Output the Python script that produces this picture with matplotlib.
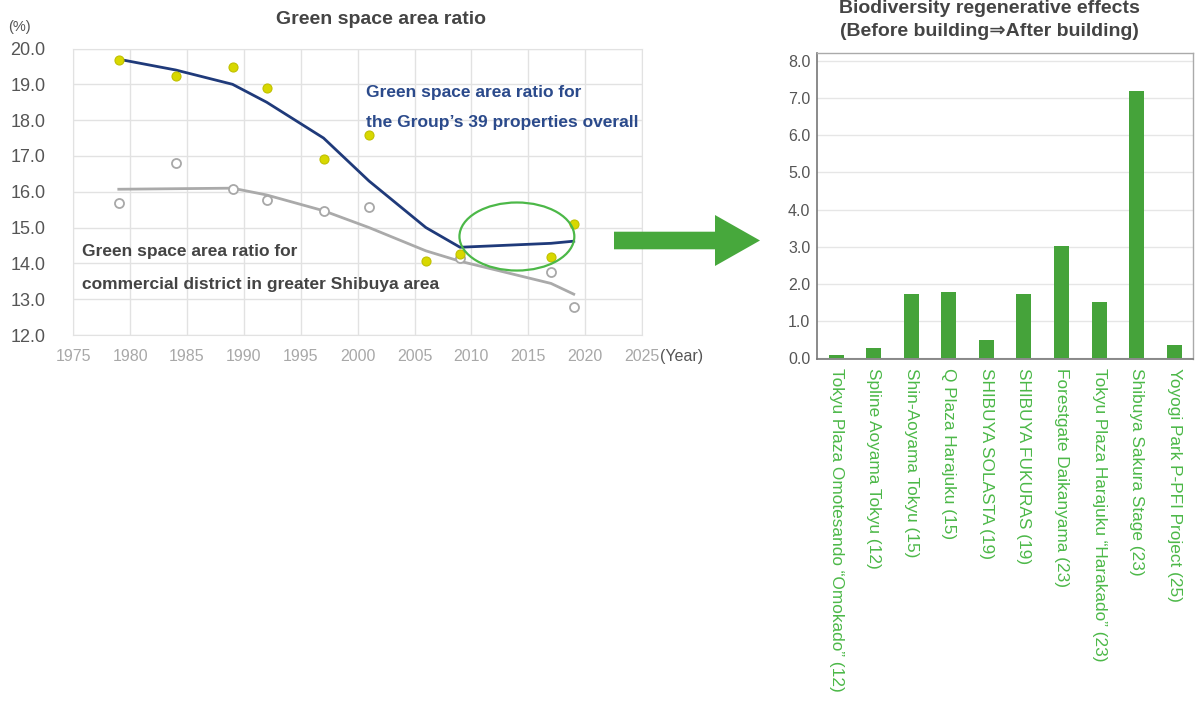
import matplotlib
matplotlib.use("Agg")
import matplotlib.pyplot as plt
from matplotlib.patches import Ellipse, Polygon

plt.rcParams['font.family'] = ['Liberation Sans', 'DejaVu Sans']

# ---------------- data ----------------
years = [1979, 1984, 1989, 1992, 1997, 2001, 2006, 2009, 2017, 2019]
group_ratio = [19.68, 19.24, 19.47, 18.90, 16.92, 17.58, 14.08, 14.25, 14.18, 15.10]
group_trend = [19.70, 19.40, 19.00, 18.50, 17.50, 16.30, 15.00, 14.45, 14.56, 14.62]

shibuya_years = [1979, 1984, 1989, 1992, 1997, 2001, 2009, 2017, 2019]
shibuya_ratio = [15.69, 16.80, 16.07, 15.77, 15.45, 15.57, 14.14, 13.77, 12.79]
shibuya_trend_years = [1979, 1989, 1992, 1997, 2001, 2006, 2009, 2017, 2019]
shibuya_trend = [16.07, 16.10, 15.91, 15.47, 15.00, 14.35, 14.06, 13.44, 13.14]

x_ticks = [1975, 1980, 1985, 1990, 1995, 2000, 2005, 2010, 2015, 2020, 2025]
y_ticks = [12.0, 13.0, 14.0, 15.0, 16.0, 17.0, 18.0, 19.0, 20.0]

projects = [
    'Tokyu Plaza Omotesando \u201cOmokado\u201d (12)',
    'Spline Aoyama Tokyu (12)',
    'Shin-Aoyama Tokyu (15)',
    'Q Plaza Harajuku (15)',
    'SHIBUYA SOLASTA (19)',
    'SHIBUYA FUKURAS (19)',
    'Forestgate Daikanyama (23)',
    'Tokyu Plaza Harajuku \u201cHarakado\u201d (23)',
    'Shibuya Sakura Stage (23)',
    'Yoyogi Park P-PFI Project (25)',
]
effects = [0.09, 0.28, 1.72, 1.78, 0.50, 1.73, 3.01, 1.51, 7.19, 0.36]
bar_ticks = [0.0, 1.0, 2.0, 3.0, 4.0, 5.0, 6.0, 7.0, 8.0]

# ---------------- figure ----------------
W, H = 1198, 706
fig = plt.figure(figsize=(W / 100, H / 100), dpi=100)

def fx(px):
    return px / W

def fy(py):
    return 1 - py / H

# ----- left chart -----
axL = fig.add_axes([fx(73.3), fy(335), fx(642) - fx(73.3), fy(48.5) - fy(335)])
grid_c = '#e2e2e2'
axL.set_xlim(1975, 2025)
axL.set_ylim(12, 20)
axL.set_xticks(x_ticks)
axL.set_yticks(y_ticks)
axL.set_yticklabels([f'{v:.1f}' for v in y_ticks])
axL.grid(True, color=grid_c, lw=1)
axL.set_axisbelow(True)
for s in axL.spines.values():
    s.set_color(grid_c)
axL.tick_params(axis='both', length=0)
axL.tick_params(axis='y', pad=20, labelsize=13, labelcolor='#555555')
axL.tick_params(axis='x', pad=10, labelsize=11.5, labelcolor='#a8a8a8')

axL.plot(shibuya_trend_years, shibuya_trend, color='#aaaaaa', lw=2, zorder=3)
axL.plot(years, group_trend, color='#1f3a7a', lw=2, zorder=3)
axL.plot(shibuya_years, shibuya_ratio, 'o', ms=6.5, mfc='white', mec='#a8a8a8', mew=1.3, zorder=4)
axL.plot(years, group_ratio, 'o', ms=6.5, mfc='#d8d800', mec='#c0c000', mew=0.8, zorder=5)

axL.add_patch(Ellipse((2014.0, 14.75), 10.1, 1.9, fill=False, ec='#4cb848', lw=1.6, zorder=6))

axL.text(2000.74, 18.77, 'Green space area ratio for', color='#2b4a8b', fontsize=12.5,
         fontweight='bold', va='center', ha='left')
axL.text(2000.74, 17.93, 'the Group\u2019s 39 properties overall', color='#2b4a8b', fontsize=12.5,
         fontweight='bold', va='center', ha='left')
axL.text(1975.74, 14.32, 'Green space area ratio for', color='#444444', fontsize=12.5,
         fontweight='bold', va='center', ha='left')
axL.text(1975.74, 13.41, 'commercial district in greater Shibuya area', color='#444444', fontsize=12.5,
         fontweight='bold', va='center', ha='left')

fig.text(fx(381), fy(19), 'Green space area ratio', fontsize=14, fontweight='bold',
         color='#444444', ha='center', va='center')
fig.text(fx(19), fy(27), '(%)', fontsize=10.5, color='#555555', ha='center', va='center')
fig.text(fx(660), fy(357), '(Year)', fontsize=11.5, color='#555555', ha='left', va='center')

# ----- arrow -----
arrow = Polygon([(fx(614), fy(231.7)), (fx(715), fy(231.7)), (fx(715), fy(215)),
                 (fx(760), fy(240.5)), (fx(715), fy(266)), (fx(715), fy(249.3)),
                 (fx(614), fy(249.3))], closed=True, transform=fig.transFigure,
                fc='#47a83c', ec='none', zorder=10)
fig.patches.append(arrow)

# ----- right chart -----
axR = fig.add_axes([fx(817.3), fy(359.3), fx(1193) - fx(817.3), fy(52.7) - fy(359.3)])
xs = list(range(len(projects)))
axR.bar(xs, effects, width=0.4, color='#45a33a', zorder=3)
axR.set_xlim(-0.5, len(projects) - 0.5)
axR.set_ylim(-0.03, 8.22)
axR.set_yticks(bar_ticks)
axR.set_yticklabels([f'{v:.1f}' for v in bar_ticks])
axR.set_xticks(xs)
axR.set_xticklabels(projects, rotation=-90, ha='center', va='top', color='#4cb848', fontsize=12.4)
axR.grid(True, axis='y', color='#e6e6e6', lw=1)
axR.set_axisbelow(True)
axR.tick_params(axis='both', length=0)
axR.tick_params(axis='y', pad=5, labelsize=11.5, labelcolor='#555555')
axR.tick_params(axis='x', pad=6)
for side in ['left', 'bottom']:
    axR.spines[side].set_color('#777777')
    axR.spines[side].set_linewidth(1.2)
for side in ['top', 'right']:
    axR.spines[side].set_color('#aaaaaa')
    axR.spines[side].set_linewidth(1.0)

fig.text(fx(989), fy(8.5), 'Biodiversity regenerative effects', fontsize=14, fontweight='bold',
         color='#444444', ha='center', va='center')
fig.text(fx(989), fy(31), '(Before building\u21d2After building)', fontsize=14, fontweight='bold',
         color='#444444', ha='center', va='center')

fig.savefig('out.png', dpi=100)
